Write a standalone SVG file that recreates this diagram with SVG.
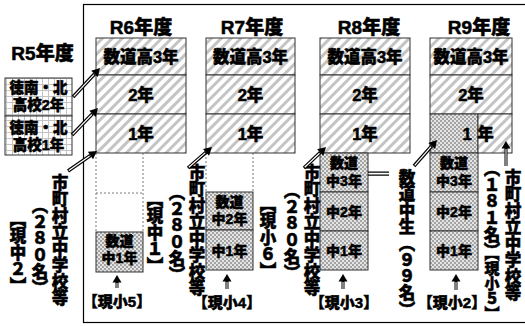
<svg xmlns="http://www.w3.org/2000/svg" width="525" height="326" viewBox="0 0 525 326">
<style>
text{font-family:"Liberation Sans","Noto Sans CJK JP",sans-serif;font-weight:900;fill:#000;stroke:#000;stroke-width:0.55}
.t{font-size:19px;text-anchor:middle}
.b{font-size:16.5px;text-anchor:middle}
.s{font-size:14px;text-anchor:middle}
.l{font-size:14.5px;text-anchor:middle}
.m{font-size:15px;text-anchor:middle}
.v{font-family:"Noto Sans CJK JP",sans-serif;font-size:16.5px;writing-mode:vertical-rl;text-orientation:mixed}
.bx{stroke:#333;stroke-width:1}
.h{fill:url(#hatch)}
.g{fill:url(#grid)}
.c{fill:url(#check)}
.d{fill:none;stroke:#555;stroke-width:0.8;stroke-dasharray:2 2}
.ab{stroke:#000;stroke-width:3.6;fill:none}
.aw{stroke:#fff;stroke-width:1.2;fill:none}
</style>
<defs>
<pattern id="hatch" width="7" height="7" patternUnits="userSpaceOnUse" patternTransform="rotate(45)">
<rect width="7" height="7" fill="#fff"/><rect width="3" height="7" fill="#c4c4c4"/>
</pattern>
<pattern id="grid" width="6" height="6" patternUnits="userSpaceOnUse">
<rect width="6" height="6" fill="#fff"/><path d="M0 0.5H6M0.5 0V6" stroke="#c4c4c4" stroke-width="1"/>
</pattern>
<pattern id="check" width="4" height="4" patternUnits="userSpaceOnUse">
<rect width="4" height="4" fill="#e4e4e4"/><rect width="2" height="2" fill="#a4a4a4"/><rect x="2" y="2" width="2" height="2" fill="#a4a4a4"/>
</pattern>
</defs>
<rect x="83.5" y="4.5" width="460" height="318" fill="#fff" stroke="#000" stroke-width="1.2"/>

<g id="titles">
<text class="t" x="42.5" y="60">R5年度</text>
<text class="t" x="141" y="33.5">R6年度</text>
<text class="t" x="252" y="33.5">R7年度</text>
<text class="t" x="369" y="33.5">R8年度</text>
<text class="t" x="479" y="33.5">R9年度</text>
</g>

<g id="r5">
<rect class="bx g" x="5" y="78" width="67" height="38"/>
<text class="l" x="38.5" y="92.5"><tspan x="38.5">徳南・北</tspan><tspan x="38.5" dy="17.5">高校2年</tspan></text>
<rect class="bx g" x="5" y="116" width="67" height="39"/>
<text class="l" x="38.5" y="132.5"><tspan x="38.5">徳南・北</tspan><tspan x="38.5" dy="17.5">高校1年</tspan></text>
</g>

<g id="r6">
<rect class="bx h" x="96" y="38" width="90" height="37"/>
<text class="b" x="141" y="62.5">数道高3年</text>
<rect class="bx h" x="96" y="75" width="90" height="39"/>
<text class="b" x="141" y="100.5">2年</text>
<rect class="bx h" x="96" y="114" width="90" height="39"/>
<text class="b" x="141" y="139.5">1年</text>
<path class="d" d="M96 153V232M143 153V232M96 193H143"/>
<rect class="bx c" x="96" y="232" width="47" height="40"/>
<text class="s" x="119.5" y="246"><tspan x="119.5">数道</tspan><tspan x="119.5" dy="17">中1年</tspan></text>
<text class="m" x="117" y="307">【現小5】</text>
</g>

<g id="r7">
<rect class="bx h" x="206" y="38" width="89" height="37"/>
<text class="b" x="250.5" y="62.5">数道高3年</text>
<rect class="bx h" x="206" y="75" width="89" height="39"/>
<text class="b" x="250.5" y="100.5">2年</text>
<rect class="bx h" x="206" y="114" width="89" height="39"/>
<text class="b" x="250.5" y="139.5">1年</text>
<path class="d" d="M206 153V192M253 153V192"/>
<rect class="bx c" x="206" y="192" width="47" height="38"/>
<text class="s" x="229.5" y="206.5"><tspan x="229.5">数道</tspan><tspan x="229.5" dy="17.5">中2年</tspan></text>
<rect class="bx c" x="206" y="230" width="47" height="40"/>
<text class="s" x="229.5" y="255.5">中1年</text>
<text class="m" x="227" y="308">【現小4】</text>
</g>

<g id="r8">
<rect class="bx h" x="320" y="38" width="90" height="37"/>
<text class="b" x="365" y="62.5">数道高3年</text>
<rect class="bx h" x="320" y="75" width="90" height="39"/>
<text class="b" x="365" y="100.5">2年</text>
<rect class="bx h" x="320" y="114" width="90" height="39"/>
<text class="b" x="365" y="139.5">1年</text>
<rect class="bx c" x="320" y="153" width="48" height="39"/>
<text class="s" x="344" y="167.5"><tspan x="344">数道</tspan><tspan x="344" dy="18">中3年</tspan></text>
<rect class="bx c" x="320" y="192" width="48" height="39"/>
<text class="s" x="344" y="216.5">中2年</text>
<rect class="bx c" x="320" y="231" width="48" height="39"/>
<text class="s" x="344" y="255.5">中1年</text>
<text class="m" x="344" y="308">【現小3】</text>
</g>

<g id="r9">
<rect class="bx h" x="430" y="38" width="82" height="37"/>
<text class="b" x="471" y="62.5">数道高3年</text>
<rect class="bx h" x="430" y="75" width="82" height="39"/>
<text class="b" x="471" y="100.5">2年</text>
<rect class="bx c" x="430" y="114" width="48" height="39"/>
<rect class="bx h" x="478" y="114" width="34" height="39"/>
<text class="b" x="467" y="139.5">1</text>
<text class="b" x="485.5" y="139.5">年</text>
<rect class="bx c" x="430" y="153" width="48" height="39"/>
<text class="s" x="454" y="167.5"><tspan x="454">数道</tspan><tspan x="454" dy="18">中3年</tspan></text>
<rect class="bx c" x="430" y="192" width="48" height="39"/>
<text class="s" x="454" y="216.5">中2年</text>
<rect class="bx c" x="430" y="231" width="48" height="39"/>
<text class="s" x="454" y="255.5">中1年</text>
<text class="m" x="452" y="308">【現小2】</text>
</g>

<g id="labels">
<text class="v" x="60" y="174">市町村立中学校等</text>
<text class="v" x="40" y="197">（２８０名）</text>
<text class="v" x="18" y="211">【現中２】</text>
<text class="v" x="155" y="191">【現中１】</text>
<text class="v" x="177" y="184">（２８０名）</text>
<text class="v" x="197" y="164">市町村立中学校等</text>
<text class="v" x="268" y="196">【現小６】</text>
<text class="v" x="292" y="182">（２８０名）</text>
<text class="v" x="312" y="164">市町村立中学校等</text>
<text class="v" x="407" y="169">数道中生（９９名）</text>
<text class="v" x="513" y="169">市町村立中学校等</text>
<text class="v" x="492" y="160">（１８１名）</text>
<text class="v" x="492" y="246" style="font-size:15px">【現小５】</text>
</g>

<g id="connectors">
<path class="ab" d="M73 97L94.5 73.9"/><path class="aw" d="M73.7 96.3L93.9 74.6"/><path d="M100 68L97.8 77L91.2 70.8Z"/>
<path class="ab" d="M72 135L92.5 113.8"/><path class="aw" d="M72.7 134.3L91.8 114.5"/><path d="M98 108L95.7 116.9L89.3 110.7Z"/>
<path class="ab" d="M68 171L90.4 155.5"/><path class="aw" d="M68.8 170.4L89.6 156.1"/><path d="M97 151L93 159.2L87.8 151.8Z"/>
<path class="ab" d="M188 168L206 152.3"/><path class="aw" d="M188.8 167.3L205.2 152.9"/><path d="M212 147L209 155.7L203 148.9Z"/>
<path class="ab" d="M304 168L320.2 152.5"/><path class="aw" d="M304.7 167.3L319.5 153.2"/><path d="M326 147L323.3 155.8L317.1 149.2Z"/>
<path class="ab" d="M414 166L431.7 146"/><path class="aw" d="M414.7 165.3L431 146.7"/><path d="M437 140L435.1 149L428.3 143Z"/>
<path d="M368 172.2H389M368 175.2H389" stroke="#000" stroke-width="1.2"/>
<path class="ab" d="M117 288V282" style="stroke-width:3"/><path class="aw" d="M117 288V283" style="stroke-width:1"/><path d="M117 275L112.5 282.5H121.5Z"/>
<path class="ab" d="M227 289V281" style="stroke-width:3"/><path class="aw" d="M227 289V282" style="stroke-width:1"/><path d="M227 274L222.5 281.5H231.5Z"/>
<path class="ab" d="M343 289V281" style="stroke-width:3"/><path class="aw" d="M343 289V282" style="stroke-width:1"/><path d="M343 274L338.5 281.5H347.5Z"/>
<path class="ab" d="M456 290V281" style="stroke-width:3"/><path class="aw" d="M456 290V282" style="stroke-width:1"/><path d="M456 274L451.5 281.5H460.5Z"/>
<path class="ab" d="M506 166V148" style="stroke-width:3"/><path class="aw" d="M506 166V149" style="stroke-width:1"/><path d="M506 141L501.5 148.5H510.5Z"/>
</g>
</svg>
